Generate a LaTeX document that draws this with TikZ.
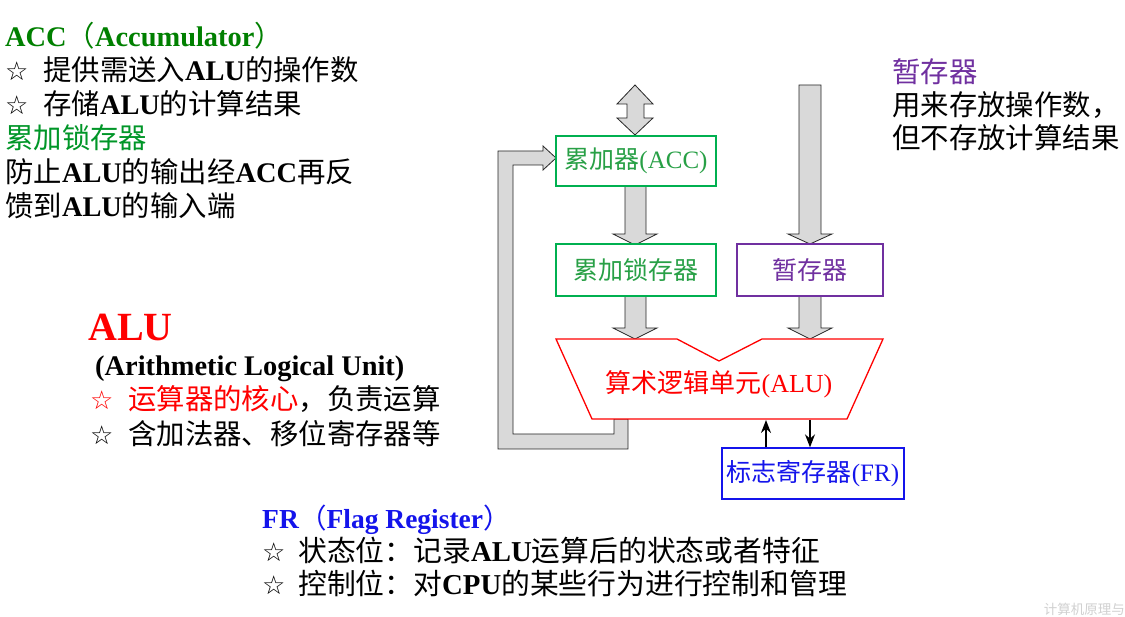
\documentclass[tikz,border=0pt]{standalone}
\usepackage{fontspec}
\usetikzlibrary{arrows.meta}
\setmainfont{Liberation Serif}
\newfontfamily\cjk{Noto Sans CJK SC}
\newfontfamily\symf{DejaVu Sans}
\newcommand{\zh}[1]{{\cjk #1}}
\newcommand{\mystar}{{\symf\bfseries ☆}}
\definecolor{accdark}{RGB}{0,128,0}
\definecolor{latgreen}{RGB}{0,150,40}
\definecolor{boxgreen}{RGB}{0,176,80}
\definecolor{boxgtext}{RGB}{40,160,70}
\definecolor{tmppurple}{RGB}{112,48,160}
\definecolor{frblue}{RGB}{20,20,235}
\definecolor{arrgray}{RGB}{217,217,217}
\begin{document}
\begin{tikzpicture}[x=1pt,y=-1pt,
  txt/.style={anchor=base west, inner sep=0pt, font=\fontsize{28.4}{33}\selectfont},
  startxt/.style={anchor=base west, inner sep=0pt, font=\fontsize{26}{30}\selectfont},
  box/.style={draw, line width=1.3pt, fill=white, inner sep=0pt, font=\fontsize{25}{30}\selectfont},
  blockarrow/.style={draw=black!85, fill=arrgray, line width=0.8pt, line join=miter},
  thinarrow/.style={draw=black, line width=1.5pt, -{Stealth[length=13pt,width=10pt]}}]
\useasboundingbox (0,0) rectangle (1125,617);
\fill[white] (0,0) rectangle (1125,617);

% ---------- block arrows (drawn first) ----------
\draw[blockarrow] (635,85) -- (653,104) -- (644,104) -- (644,118) -- (653,118) -- (635,135)
  -- (617,118) -- (627,118) -- (627,104) -- (617,104) -- cycle;
\draw[blockarrow] (625,186) -- (646,186) -- (646,234) -- (657,234) -- (635,245) -- (613,234) -- (625,234) -- cycle;
\draw[blockarrow] (799,85) -- (821,85) -- (821,234) -- (832,234) -- (810,244) -- (788,234) -- (799,234) -- cycle;
\draw[blockarrow] (625,296) -- (646,296) -- (646,328) -- (657,328) -- (635,339) -- (613,328) -- (625,328) -- cycle;
\draw[blockarrow] (799,296) -- (821,296) -- (821,328) -- (832,328) -- (810,339) -- (788,328) -- (799,328) -- cycle;
% feedback arrow ALU -> ACC
\draw[blockarrow] (614,419) -- (614,434) -- (513,434) -- (513,165) -- (543,165) -- (543,170)
  -- (556,158) -- (543,146) -- (543,151) -- (498,151) -- (498,449) -- (628,449) -- (628,419) -- cycle;

% ---------- boxes ----------
\node[box, draw=boxgreen, text=boxgtext, minimum width=160pt, minimum height=50pt] (acc) at (636,161) {\zh{累加器}(ACC)};
\node[box, draw=boxgreen, text=boxgtext, minimum width=160pt, minimum height=52pt] (latch) at (636,270) {\zh{累加锁存器}};
\node[box, draw=tmppurple, text=tmppurple, minimum width=146pt, minimum height=52pt] (tmp) at (810,270) {\zh{暂存器}};
\node[box, draw=frblue, text=frblue, minimum width=182pt, minimum height=51pt] (fr) at (813,473.5) {\zh{标志寄存器}(FR)};

% ALU shape
\draw[red, line width=1.3pt, fill=white, line join=miter] (556,339) -- (677,339) -- (719,361) -- (762,339)
  -- (883,339) -- (847,419) -- (592,419) -- cycle;
\node[inner sep=0pt, text=red, font=\fontsize{26}{30}\selectfont] (alubox) at (719,384) {\zh{算术逻辑单元}(ALU)};

% thin arrows between ALU and FR
\coordinate (aluup) at (766,420);
\coordinate (aludn) at (810,420);
\draw[thinarrow] (fr.north -| aluup) -- (aluup);
\draw[thinarrow] (aludn) -- (fr.north -| aludn);

% ---------- left texts ----------
\node[txt, text=accdark] (t1) at (5,47) {\textbf{ACC}\zh{（}\textbf{Accumulator}\zh{）}};
\node[startxt] (s1) at (5,81) {\mystar};
\node[txt] (t2) at (43,81) {\zh{提供需送入}\textbf{ALU}\zh{的操作数}};
\node[startxt] (s2) at (5,115) {\mystar};
\node[txt] (t3) at (43,115) {\zh{存储}\textbf{ALU}\zh{的计算结果}};
\node[txt, text=latgreen] (t4) at (5,149) {\zh{累加锁存器}};
\node[txt] (t5) at (5,183) {\zh{防止}\textbf{ALU}\zh{的输出经}\textbf{ACC}\zh{再反}};
\node[txt] (t6) at (5,217) {\zh{馈到}\textbf{ALU}\zh{的输入端}};

% ALU description
\node[txt, text=red, font=\fontsize{40}{44}\selectfont\bfseries] (alut) at (88,341) {ALU};
\node[txt, font=\fontsize{28.4}{33}\selectfont\bfseries] (alun) at (95,376) {(Arithmetic Logical Unit)};
\node[startxt, text=red] (s3) at (90,410) {\mystar};
\node[txt] (t7) at (128,410) {\textcolor{red}{\zh{运算器的核心}}\zh{，负责运算}};
\node[startxt] (s4) at (90,445) {\mystar};
\node[txt] (t8) at (128,445) {\zh{含加法器、移位寄存器等}};

% right texts
\node[txt, text=tmppurple] (r1) at (892,83) {\zh{暂存器}};
\node[txt] (r2) at (892,116) {\zh{用来存放操作数，}};
\node[txt] (r3) at (892,149) {\zh{但不存放计算结果}};

% FR description
\node[txt, text=frblue, font=\fontsize{27.5}{33}\selectfont] (f1) at (262,528) {\textbf{FR}\zh{（}\textbf{Flag Register}\zh{）}};
\node[startxt] (s5) at (262,561) {\mystar};
\node[txt, font=\fontsize{28.8}{33}\selectfont] (f2) at (298,561) {\zh{状态位：记录}\textbf{ALU}\zh{运算后的状态或者特征}};
\node[startxt] (s6) at (262,594) {\mystar};
\node[txt, font=\fontsize{28.8}{33}\selectfont] (f3) at (298,594) {\zh{控制位：对}\textbf{CPU}\zh{的某些行为进行控制和管理}};

% watermark
\node[anchor=base east, inner sep=0pt, text=black!18, font=\fontsize{13.5}{15}\selectfont] (wm) at (1125,614) {\zh{计算机原理与}};
\end{tikzpicture}
\end{document}
